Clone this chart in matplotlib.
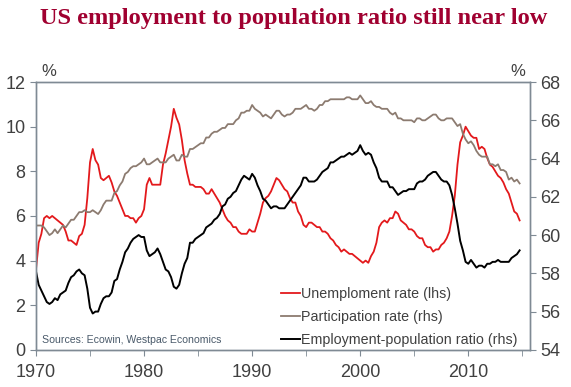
import numpy as np
import matplotlib
matplotlib.use("Agg")
import matplotlib.pyplot as plt
from matplotlib.ticker import MultipleLocator

# quarterly readings, 1970Q1 .. 2014Q4
start_year = 1970
unemp = [3.6, 4.8, 5.2, 5.9,
         6.0, 5.9, 6.0, 5.9,
         5.8, 5.7, 5.6, 5.3,
         4.9, 4.9, 4.8, 4.7,
         5.1, 5.2, 5.6, 6.8,
         8.4, 9.0, 8.5, 8.3,
         7.7, 7.6, 7.7, 7.8,
         7.5, 7.1, 6.9, 6.6,
         6.3, 6.0, 6.0, 5.9,
         5.9, 5.7, 5.9, 6.0,
         6.3, 7.4, 7.7, 7.4,
         7.4, 7.4, 7.4, 8.3,
         8.8, 9.4, 10.0, 10.8,
         10.4, 10.1, 9.4, 8.5,
         7.9, 7.4, 7.4, 7.3,
         7.3, 7.3, 7.2, 7.0,
         7.0, 7.2, 7.0, 6.8,
         6.6, 6.3, 6.0, 5.8,
         5.7, 5.5, 5.5, 5.3,
         5.2, 5.2, 5.2, 5.4,
         5.3, 5.3, 5.7, 6.1,
         6.6, 6.8, 6.9, 7.1,
         7.4, 7.7, 7.6, 7.4,
         7.2, 7.1, 6.8, 6.6,
         6.6, 6.2, 6.0, 5.6,
         5.5, 5.7, 5.7, 5.6,
         5.5, 5.5, 5.3, 5.3,
         5.2, 5.0, 4.9, 4.7,
         4.6, 4.4, 4.5, 4.4,
         4.3, 4.3, 4.2, 4.1,
         4.0, 3.9, 4.0, 3.9,
         4.2, 4.4, 4.8, 5.5,
         5.7, 5.8, 5.7, 5.9,
         5.9, 6.2, 6.1, 5.8,
         5.7, 5.6, 5.4, 5.4,
         5.3, 5.1, 5.0, 5.0,
         4.7, 4.6, 4.6, 4.4,
         4.5, 4.5, 4.7, 4.8,
         5.0, 5.3, 6.0, 6.9,
         8.3, 9.3, 9.6, 10.0,
         9.8, 9.6, 9.5, 9.5,
         9.0, 9.1, 9.0, 8.6,
         8.3, 8.2, 8.0, 7.8,
         7.7, 7.5, 7.2, 7.0,
         6.6, 6.2, 6.1, 5.8]

particip = [60.5, 60.5, 60.5, 60.4,
            60.2, 60.0, 60.1, 60.3,
            60.1, 60.3, 60.5, 60.4,
            60.6, 60.8, 60.8, 61.0,
            61.2, 61.2, 61.3, 61.2,
            61.2, 61.3, 61.2, 61.1,
            61.3, 61.6, 61.8, 61.8,
            61.8, 62.2, 62.3, 62.6,
            62.8, 63.2, 63.3, 63.5,
            63.6, 63.6, 63.7, 63.8,
            64.0, 63.7, 63.7, 63.8,
            63.9, 64.0, 63.8, 63.8,
            63.8, 64.0, 64.1, 64.2,
            63.9, 63.9, 64.2, 64.1,
            64.1, 64.5, 64.5, 64.6,
            64.7, 64.8, 64.8, 65.1,
            65.1, 65.3, 65.4, 65.4,
            65.5, 65.6, 65.6, 65.8,
            65.8, 65.8, 66.0, 66.1,
            66.4, 66.4, 66.5, 66.5,
            66.8, 66.6, 66.5, 66.4,
            66.2, 66.3, 66.2, 66.1,
            66.3, 66.5, 66.5, 66.3,
            66.2, 66.3, 66.3, 66.4,
            66.6, 66.6, 66.6, 66.7,
            66.8, 66.6, 66.6, 66.5,
            66.6, 66.8, 66.8, 67.0,
            67.0, 67.1, 67.1, 67.1,
            67.1, 67.1, 67.1, 67.2,
            67.2, 67.1, 67.1, 67.1,
            67.3, 67.1, 66.9, 66.9,
            67.0, 66.8, 66.7, 66.7,
            66.6, 66.6, 66.6, 66.4,
            66.3, 66.4, 66.1, 66.1,
            66.0, 66.0, 66.0, 66.0,
            65.9, 66.1, 66.1, 66.0,
            66.0, 66.1, 66.2, 66.3,
            66.3, 66.1, 66.0, 66.0,
            66.1, 66.1, 66.1, 65.9,
            65.7, 65.8, 65.3, 65.0,
            64.8, 64.9, 64.7, 64.4,
            64.2, 64.1, 64.1, 64.1,
            63.7, 63.7, 63.6, 63.7,
            63.4, 63.4, 63.3, 62.9,
            63.0, 62.8, 62.9, 62.7]

emp_pop = [58.1, 57.4, 57.1, 56.8,
           56.5, 56.4, 56.5, 56.7,
           56.6, 56.9, 57.0, 57.1,
           57.5, 57.8, 57.9, 58.1,
           58.2, 58.0, 57.9, 57.2,
           56.2, 55.9, 56.0, 56.0,
           56.4, 56.7, 56.8, 56.8,
           57.0, 57.6, 57.7, 58.2,
           58.6, 59.1, 59.3, 59.6,
           59.8, 59.9, 60.0, 59.9,
           59.9, 59.2, 58.9, 59.0,
           59.1, 59.3, 59.0, 58.6,
           58.2, 58.1, 57.8, 57.3,
           57.2, 57.4, 58.0, 58.5,
           58.8, 59.6, 59.6, 59.8,
           59.9, 60.0, 60.1, 60.4,
           60.5, 60.6, 60.8, 60.9,
           61.1, 61.5, 61.6, 61.9,
           62.0, 62.2, 62.3, 62.6,
           62.9, 63.1, 63.0, 62.9,
           63.2, 63.0, 62.6, 62.3,
           61.9, 61.8, 61.6, 61.4,
           61.5, 61.5, 61.4, 61.4,
           61.4, 61.6, 61.8, 62.0,
           62.2, 62.4, 62.6, 63.0,
           63.0, 62.8, 62.8, 62.8,
           62.9, 63.1, 63.3, 63.4,
           63.5, 63.8, 63.8, 63.9,
           64.0, 64.1, 64.1, 64.2,
           64.3, 64.2, 64.3, 64.4,
           64.7, 64.4, 64.2, 64.3,
           64.2, 63.8, 63.5, 63.0,
           62.8, 62.8, 62.8, 62.5,
           62.5, 62.3, 62.1, 62.2,
           62.3, 62.3, 62.4, 62.4,
           62.4, 62.7, 62.8, 62.8,
           62.9, 63.1, 63.2, 63.3,
           63.3, 63.1, 62.9, 62.8,
           62.8, 62.6, 62.1, 61.4,
           60.6, 59.7, 59.2, 58.6,
           58.5, 58.7, 58.5, 58.3,
           58.4, 58.4, 58.3, 58.5,
           58.5, 58.6, 58.6, 58.7,
           58.6, 58.6, 58.6, 58.6,
           58.8, 58.9, 59.0, 59.2]

dates = start_year + np.arange(len(unemp)) / 4.0

red = '#E3191C'
brown = '#8C7B70'
axis_col = '#7F8A94'
text_col = '#404040'

plt.rcParams['font.family'] = ['Liberation Sans', 'DejaVu Sans']

fig = plt.figure(figsize=(5.71, 3.87), dpi=100)
ax = fig.add_axes([0.063, 0.096, 0.865, 0.692])
ax2 = ax.twinx()

l1, = ax.plot(dates, unemp, color=red, lw=1.3, label='Unemploment rate (lhs)')
l2, = ax2.plot(dates, particip, color=brown, lw=1.3, label='Participation rate (rhs)')
l3, = ax2.plot(dates, emp_pop, color='black', lw=1.4, label='Employment-population ratio (rhs)')

ax.set_xlim(1970, 2015.7)
ax.set_ylim(0, 12)
ax2.set_ylim(54, 68)
ax.xaxis.set_major_locator(MultipleLocator(10))
ax.xaxis.set_minor_locator(MultipleLocator(5))
ax.yaxis.set_major_locator(MultipleLocator(2))
ax2.yaxis.set_major_locator(MultipleLocator(2))

for a in (ax, ax2):
    for s in a.spines.values():
        s.set_color(axis_col)
        s.set_linewidth(1.0)
    a.tick_params(which='both', colors=axis_col, labelcolor=text_col,
                  labelsize=13, length=4, direction='out')
ax.tick_params(axis='x', which='minor', length=4)
ax.tick_params(axis='x', pad=6)

fig.text(0.515, 0.952, 'US employment to population ratio still near low',
         ha='center', va='center', fontsize=17.6, fontweight='bold',
         color='#A00030', family=['Liberation Serif', 'DejaVu Serif'])
fig.text(0.085, 0.815, '%', ha='center', va='center', fontsize=12, color=text_col)
fig.text(0.906, 0.815, '%', ha='center', va='center', fontsize=12, color=text_col)

ax.text(0.013, 0.037, 'Sources: Ecowin, Westpac Economics', transform=ax.transAxes,
        fontsize=7.6, color='#4A5A6A', va='center')

ax2.legend(handles=[l1, l2, l3], loc='lower right', bbox_to_anchor=(0.975, 0.012),
           frameon=False, fontsize=10.3, handlelength=1.35, handletextpad=0.05,
           labelspacing=0.6, borderaxespad=0, borderpad=0, labelcolor=text_col)

fig.savefig('out.png', dpi=100)
